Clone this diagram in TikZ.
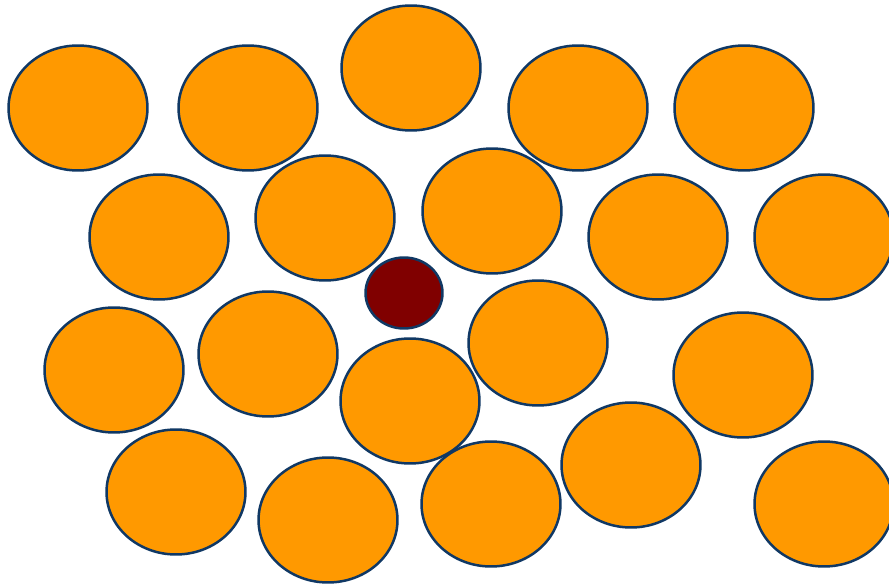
\documentclass[tikz,border=0pt]{standalone}
\usetikzlibrary{shapes.geometric}
\definecolor{ballorange}{RGB}{255,153,0}
\definecolor{balledge}{RGB}{16,56,100}
\definecolor{darkcore}{RGB}{128,0,0}
\begin{document}
\begin{tikzpicture}[x=0.02cm, y=-0.02cm,
  ball/.style={ellipse, draw=balledge, line width=0.05cm, inner sep=0pt,
               minimum width=2.78cm, minimum height=2.5cm, fill=ballorange},
  core/.style={ellipse, draw=balledge, line width=0.05cm, inner sep=0pt,
               minimum width=1.54cm, minimum height=1.42cm, fill=darkcore}
]
  \useasboundingbox (0,0) rectangle (889,584);
  % top row
  \node[ball] (ballA1) at (78,108)  {};
  \node[ball] (ballA2) at (248,108) {};
  \node[ball] (ballA3) at (411,68)  {};
  \node[ball] (ballA4) at (578,108) {};
  \node[ball] (ballA5) at (744,108) {};
  % second row
  \node[ball] (ballB1) at (159,237) {};
  \node[ball] (ballB2) at (325,218) {};
  \node[ball] (ballB3) at (492,211) {};
  \node[ball] (ballB4) at (658,237) {};
  \node[ball] (ballB5) at (824,237) {};
  % third row
  \node[ball] (ballC1) at (114,370) {};
  \node[ball] (ballC2) at (268,354) {};
  \node[ball] (ballC3) at (410,401) {};
  \node[ball] (ballC4) at (538,343) {};
  \node[ball] (ballC5) at (743,375) {};
  % bottom row
  \node[ball] (ballD1) at (176,492) {};
  \node[ball] (ballD2) at (328,520) {};
  \node[ball] (ballD3) at (491,504) {};
  \node[ball] (ballD4) at (631,465) {};
  \node[ball] (ballD5) at (824,504) {};
  % small dark one
  \node[core] (center) at (404,293) {};
\end{tikzpicture}
\end{document}
